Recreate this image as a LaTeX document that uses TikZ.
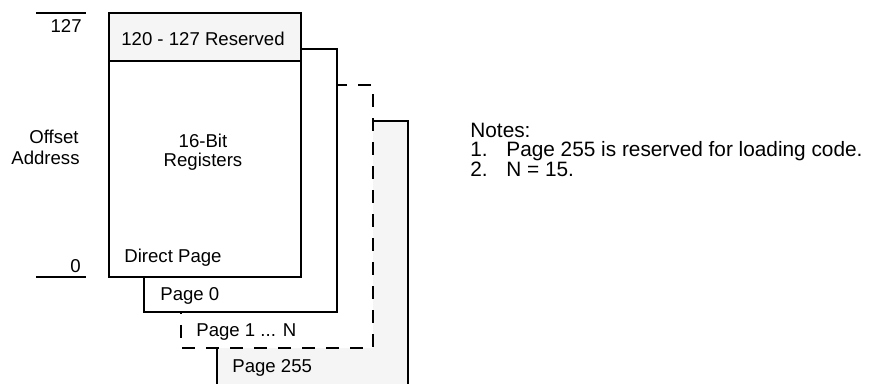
\documentclass[tikz,border=0pt]{standalone}
\usepackage{fontspec}
\setmainfont{Liberation Sans}
\usepackage{tikz}
\usetikzlibrary{positioning}
\definecolor{pagefill}{HTML}{F5F5F5}
\tikzset{>=stealth,
  pagebox/.style={line width=1pt,draw=black,fill=white},
  dashbox/.style={pagebox,dash pattern=on 6.5pt off 5.5pt},
  shadebox/.style={pagebox,fill=pagefill},
  lbl/.style={inner sep=0pt,font=\fontsize{9.3}{11}\selectfont},
  note/.style={inner sep=0pt,align=left,font=\fontsize{10.4}{9.2}\selectfont}}
\newcommand{\notenum}[1]{\makebox[18pt][l]{#1}}

\begin{document}
\begin{tikzpicture}[x=0.5pt,y=-0.5pt]
      \clip (0,0) rectangle (872,384);
      \fill[white] (0,0) rectangle (872,384);
      % pages, back to front
      \draw[shadebox] (217,121) rectangle (408,400);
      \draw[dashbox] (181,85) rectangle (373,348);
      \draw[pagebox] (144,49) rectangle (337,312);
      \draw[pagebox] (109,13) rectangle (301,277);
      \draw[shadebox] (109,13) rectangle (301,61);
      % offset marks
      \draw[line width=1pt] (36,13)--(86,13);
      \draw[line width=1pt] (36,277)--(86,277);
      \node[lbl,anchor=base east] at (82,33) (top) {127};
      \node[lbl,anchor=base east] at (81,273) (bottom) {0};
      \node[lbl,anchor=base east] at (79,144) (offset) {Offset};
      \node[lbl,anchor=base east] at (80,165) (address) {Address};
      % page labels
      \node[lbl,anchor=base] at (203,46) (reserved) {120 - 127 Reserved};
      \node[lbl,anchor=base] at (203,148) (bits) {16-Bit};
      \node[lbl,anchor=base] at (203,167) (regs) {Registers};
      \node[lbl,anchor=base west] at (124,263) (direct) {Direct Page};
      \node[lbl,anchor=base west] at (160,301) (pzero) {Page 0};
      \node[lbl,anchor=base west] at (196,336) (pone) {Page 1 ... N};
      \node[lbl,anchor=base west] at (232,372) (plast) {Page 255};
      % notes
      \node[note,anchor=north west] at (470,123) (notes)
        {\lineskiplimit=-6pt\relax Notes:\\
         \notenum{1.}Page 255 is reserved for loading code.\\
         \notenum{2.}N = 15.};
\end{tikzpicture}
\end{document}
